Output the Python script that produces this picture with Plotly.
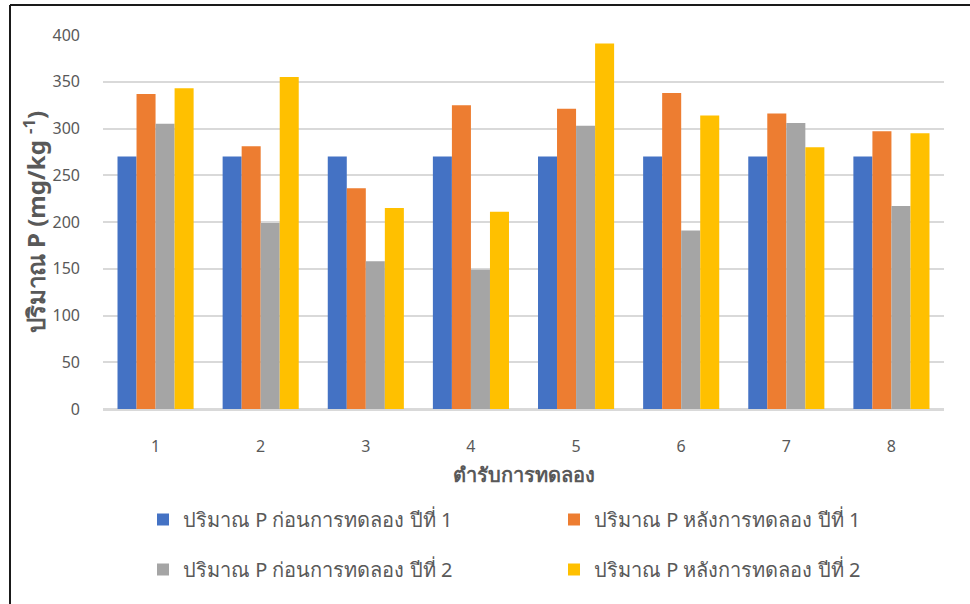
import plotly.graph_objects as go

categories = ["1", "2", "3", "4", "5", "6", "7", "8"]
before_y1 = [270, 270, 270, 270, 270, 270, 270, 270]
after_y1 = [337, 281, 236, 325, 321, 338, 316, 297]
before_y2 = [305, 199, 158, 149, 303, 191, 306, 217]
after_y2 = [343, 355, 215, 211, 391, 314, 280, 295]

names = [
    "ปริมาณ P ก่อนการทดลอง ปีที่ 1",
    "ปริมาณ P หลังการทดลอง ปีที่ 1",
    "ปริมาณ P ก่อนการทดลอง ปีที่ 2",
    "ปริมาณ P หลังการทดลอง ปีที่ 2",
]
colors = ["#4472C4", "#ED7D31", "#A5A5A5", "#FFC000"]
series = [before_y1, after_y1, before_y2, after_y2]
legends = ["legend", "legend2", "legend", "legend2"]

FONT = "Noto Sans, DejaVu Sans, sans-serif"
TXT = "#595959"

fig = go.Figure()
for i, (nm, col, vals, lg) in enumerate(zip(names, colors, series, legends)):
    fig.add_trace(go.Bar(
        x=categories, y=vals, name=nm,
        marker=dict(color=col, line=dict(width=0)),
        legend=lg, legendgroup=f"g{i}",
    ))

W, H = 970, 604
ml, mr, mt, mb = 103, 26, 35, 195
pw, ph = W - ml - mr, H - mt - mb

def px_x(p):
    return (p - ml) / pw

def px_y(p):
    return (H - mb - p) / ph

legend_common = dict(
    font=dict(family=FONT, size=20, color=TXT),
    orientation="v", tracegroupgap=21,
    itemwidth=30, bgcolor="rgba(0,0,0,0)",
    xanchor="left", yanchor="top",
)

fig.update_layout(
    width=W, height=H,
    margin=dict(l=ml, r=mr, t=mt, b=mb),
    paper_bgcolor="white", plot_bgcolor="white",
    font=dict(family=FONT, color=TXT),
    barmode="group", bargap=0.276, bargroupgap=0,
    legend=dict(x=px_x(143), y=px_y(500), **legend_common),
    legend2=dict(x=px_x(554), y=px_y(500), **legend_common),
    xaxis=dict(
        showgrid=False, showline=True, linecolor="#d9d9d9", linewidth=1.5,
        tickfont=dict(size=16, color=TXT), ticks="", ticklabelstandoff=22,
        title=dict(text="<b>ตำรับการทดลอง</b>", font=dict(size=20, color=TXT), standoff=12),
    ),
    yaxis=dict(
        range=[0, 400], dtick=50, showgrid=True, gridcolor="#d9d9d9", gridwidth=1.5,
        zeroline=True, zerolinecolor="#d9d9d9", zerolinewidth=1.5,
        tickfont=dict(size=16, color=TXT), ticklabelstandoff=22,
        title=dict(text="<b>ปริมาณ P (mg/kg <sup>-1</sup>)</b>", font=dict(size=24, color=TXT), standoff=0),
    ),
    shapes=[
        dict(type="line", xref="paper", yref="paper",
             x0=px_x(10), x1=px_x(10), y0=px_y(620), y1=px_y(5),
             line=dict(color="#1a1a1a", width=2)),
        dict(type="line", xref="paper", yref="paper",
             x0=px_x(10), x1=px_x(990), y0=px_y(5), y1=px_y(5),
             line=dict(color="#1a1a1a", width=2)),
    ],
)

fig.write_html("out.html", config={"displayModeBar": False},
               post_script="document.body.style.margin='0';")
